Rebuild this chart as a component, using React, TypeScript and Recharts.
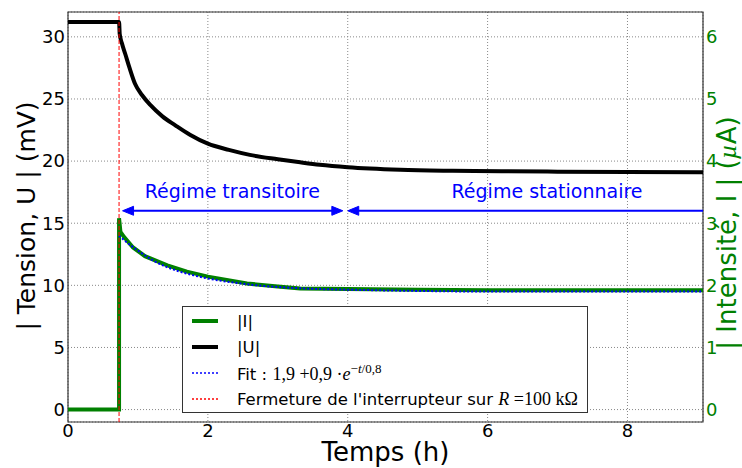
import React from 'react';
import {
  LineChart,
  Line,
  XAxis,
  YAxis,
  CartesianGrid,
  ReferenceLine,
  ReferenceDot,
  ReferenceArea,
  Legend,
  Label
} from 'recharts';

// |U| (mV) vs time (h)
const uTime = [0, 0.3, 0.6, 0.73, 0.74, 0.77, 0.82, 0.88, 0.96, 1.06, 1.18, 1.35, 1.53, 1.75, 2.0, 2.3, 2.6, 3.0, 3.32, 3.6, 4.0, 4.75, 5.5, 6.2, 7.0, 8.0, 9.08];
const uValues = [31.2, 31.2, 31.2, 31.2, 30.2, 29.5, 28.6, 27.5, 26.2, 25.3, 24.5, 23.6, 22.9, 22.1, 21.4, 20.9, 20.5, 20.15, 19.9, 19.7, 19.5, 19.3, 19.22, 19.18, 19.15, 19.12, 19.1];

// |I| (µA) vs time (h)
const iTime = [0, 0.73, 0.73, 0.75, 0.8, 0.93, 1.1, 1.42, 1.7, 2.0, 2.56, 3.0, 3.32, 4.0, 5.0, 6.0, 7.0, 8.0, 9.08];
const iValues = [0, 0, 3.08, 2.86, 2.78, 2.61, 2.47, 2.32, 2.22, 2.14, 2.03, 1.98, 1.95, 1.94, 1.93, 1.92, 1.92, 1.92, 1.92];

// fit 1,9 + 0,9 e^(-t/0,8)
const fitTime = [0.73, 0.8, 0.9, 1.0, 1.2, 1.4, 1.6, 1.8, 2.0, 2.4, 2.8, 3.2, 3.6, 4.0, 5.0, 6.0, 7.0, 8.0, 9.08];
const fitValues = [2.8, 2.73, 2.64, 2.56, 2.41, 2.3, 2.22, 2.16, 2.11, 2.04, 1.99, 1.96, 1.94, 1.93, 1.91, 1.9, 1.9, 1.9, 1.9];

const switchTime = 0.73;
const arrowLevel = 16; // mV
const transientRange = [0.78, 3.93];
const steadyRange = [4.0, 9.08];
const labelLevel = 17.0; // mV, text baseline
const transientLabelAt = 2.35;
const steadyLabelAt = 6.85;

const xTicks = [0, 2, 4, 6, 8];
const leftTicks = [0, 5, 10, 15, 20, 25, 30];
const rightTicks = [0, 1, 2, 3, 4, 5, 6];
const xDomain = [0, 9.08];
const leftDomain = [-1, 32];
const rightDomain = [-0.2, 6.4];

const FONT = '"DejaVu Sans", sans-serif';
const MATH = '"Liberation Serif", "DejaVu Serif", serif';
const GREEN = '#008000';
const BLUE = '#0000ff';

const zip = (ts: number[], vs: number[]) => ts.map((t, k) => ({ t, v: vs[k] }));
const uData = zip(uTime, uValues);
const iData = zip(iTime, iValues);
const fitData = zip(fitTime, fitValues);

const arrowHead = (dir: 'left' | 'right') => (props: any) => {
  const { cx, cy } = props;
  const s = dir === 'left' ? 1 : -1;
  return (
    <path
      d={`M${cx},${cy} L${cx + s * 11},${cy - 4.5} L${cx + s * 11},${cy + 4.5} Z`}
      fill={BLUE}
      stroke={BLUE}
      strokeWidth={1}
    />
  );
};

const textAt = (txt: string) => (props: any) => (
  <text x={props.cx} y={props.cy} textAnchor="middle" fill={BLUE} fontSize={19} fontFamily={FONT}>
    {txt}
  </text>
);

const legendRows = [
  { key: 'i', color: GREEN, width: 4, dash: undefined, label: <span>|I|</span> },
  { key: 'u', color: '#000', width: 4, dash: undefined, label: <span>|U|</span> },
  {
    key: 'fit',
    color: BLUE,
    width: 1.5,
    dash: '2 2',
    label: (
      <span>
        Fit :{' '}
        <span style={{ fontFamily: MATH, fontSize: 18 }}>
          1,9 +0,9 ·<i>e</i>
          <sup style={{ fontSize: 13 }}>
            −<i>t</i>/0,8
          </sup>
        </span>
      </span>
    )
  },
  {
    key: 'sw',
    color: '#ff0000',
    width: 1.5,
    dash: '2 2',
    label: (
      <span>
        Fermeture de l'interrupteur sur{' '}
        <span style={{ fontFamily: MATH, fontSize: 18 }}>
          <i>R</i> =100 kΩ
        </span>
      </span>
    )
  }
];

const LegendBox = () => (
  <div
    style={{
      border: '1px solid #333',
      background: '#fff',
      width: 406,
      height: 107,
      boxSizing: 'border-box',
      paddingTop: 1,
      fontFamily: FONT,
      fontSize: 16.5,
      color: '#000',
      whiteSpace: 'nowrap'
    }}
  >
    {legendRows.map((r) => (
      <div key={r.key} style={{ display: 'flex', alignItems: 'center', height: 26 }}>
        <svg width={54} height={10} style={{ flex: 'none' }}>
          <line x1={9} x2={35} y1={5} y2={5} stroke={r.color} strokeWidth={r.width} strokeDasharray={r.dash} />
        </svg>
        {r.label}
      </div>
    ))}
  </div>
);

export default function App() {
  return (
    <div style={{ position: 'absolute', left: 0, top: 0, width: 742, height: 468, background: '#fff' }}>
      <LineChart width={742} height={468} margin={{ top: 12, right: 0, bottom: 0, left: 0 }}>
        <CartesianGrid yAxisId="left" stroke="#888" strokeDasharray="1 2" />
        <XAxis
          dataKey="t"
          type="number"
          domain={xDomain}
          ticks={xTicks}
          allowDataOverflow
          height={46}
          axisLine={false}
          tickLine={false}
          tickSize={0}
          tickMargin={2}
          tick={{ fill: '#000', fontSize: 18, fontFamily: FONT }}
        >
          <Label
            content={(p: any) => (
              <text
                x={p.viewBox.x + p.viewBox.width / 2}
                y={p.viewBox.y + 39}
                textAnchor="middle"
                fontSize={26}
                fontFamily={FONT}
                fill="#000"
              >
                Temps (h)
              </text>
            )}
          />
        </XAxis>
        <YAxis
          yAxisId="left"
          type="number"
          domain={leftDomain}
          ticks={leftTicks}
          allowDataOverflow
          width={68}
          axisLine={false}
          tickLine={false}
          tickSize={0}
          tickMargin={3}
          tick={{ fill: '#000', fontSize: 18, fontFamily: FONT }}
        >
          <Label
            content={() => {
              const cx = 26;
              const cy = 216;
              return (
                <text
                  x={cx}
                  y={cy}
                  transform={`rotate(-90 ${cx} ${cy})`}
                  textAnchor="middle"
                  dominantBaseline="central"
                  fontSize={25}
                  fontFamily={FONT}
                  fill="#000"
                >
                  | Tension, U | (mV)
                </text>
              );
            }}
          />
        </YAxis>
        <YAxis
          yAxisId="right"
          orientation="right"
          type="number"
          domain={rightDomain}
          ticks={rightTicks}
          allowDataOverflow
          width={39}
          axisLine={false}
          tickLine={false}
          tickSize={0}
          tickMargin={3}
          tick={{ fill: GREEN, fontSize: 18, fontFamily: FONT }}
        >
          <Label
            content={() => {
              const cx = 727;
              const cy = 233;
              return (
                <text
                  x={cx}
                  y={cy}
                  transform={`rotate(-90 ${cx} ${cy})`}
                  textAnchor="middle"
                  dominantBaseline="central"
                  fontSize={26}
                  fontFamily={FONT}
                  fill={GREEN}
                >
                  | Intensité, I | (
                  <tspan fontFamily={MATH} fontStyle="italic">µ</tspan>
                  A)
                </text>
              );
            }}
          />
        </YAxis>

        <Line
          yAxisId="right"
          data={iData}
          dataKey="v"
          stroke={GREEN}
          strokeWidth={4}
          dot={false}
          activeDot={false}
          isAnimationActive={false}
          type="linear"
        />
        <Line
          yAxisId="left"
          data={uData}
          dataKey="v"
          stroke="#000"
          strokeWidth={4}
          dot={false}
          activeDot={false}
          isAnimationActive={false}
          type="monotone"
        />
        <Line
          yAxisId="right"
          data={fitData}
          dataKey="v"
          stroke={BLUE}
          strokeWidth={2}
          strokeDasharray="2 2"
          dot={false}
          activeDot={false}
          isAnimationActive={false}
          type="monotone"
        />

        <ReferenceLine yAxisId="left" x={switchTime} stroke="#ff0000" strokeWidth={1} strokeDasharray="4 2" />

        <ReferenceLine
          yAxisId="left"
          segment={[
            { x: transientRange[0] + 0.1, y: arrowLevel },
            { x: transientRange[1] - 0.1, y: arrowLevel }
          ]}
          stroke={BLUE}
          strokeWidth={2}
        />
        <ReferenceLine
          yAxisId="left"
          segment={[
            { x: steadyRange[0] + 0.1, y: arrowLevel },
            { x: steadyRange[1], y: arrowLevel }
          ]}
          stroke={BLUE}
          strokeWidth={2}
        />
        <ReferenceDot yAxisId="left" x={transientRange[0]} y={arrowLevel} shape={arrowHead('left')} />
        <ReferenceDot yAxisId="left" x={transientRange[1]} y={arrowLevel} shape={arrowHead('right')} />
        <ReferenceDot yAxisId="left" x={steadyRange[0]} y={arrowLevel} shape={arrowHead('left')} />
        <ReferenceDot yAxisId="left" x={transientLabelAt} y={labelLevel} shape={textAt('Régime transitoire')} />
        <ReferenceDot yAxisId="left" x={steadyLabelAt} y={labelLevel} shape={textAt('Régime stationnaire')} />

        <ReferenceArea
          yAxisId="left"
          x1={xDomain[0]}
          x2={xDomain[1]}
          y1={leftDomain[0]}
          y2={leftDomain[1]}
          fill="none"
          stroke="#333"
          strokeWidth={1.2}
        />

        <Legend
          layout="vertical"
          align="center"
          verticalAlign="middle"
          wrapperStyle={{ left: 182, top: 306, width: 406, height: 107 }}
          content={() => <LegendBox />}
        />
      </LineChart>
    </div>
  );
}
